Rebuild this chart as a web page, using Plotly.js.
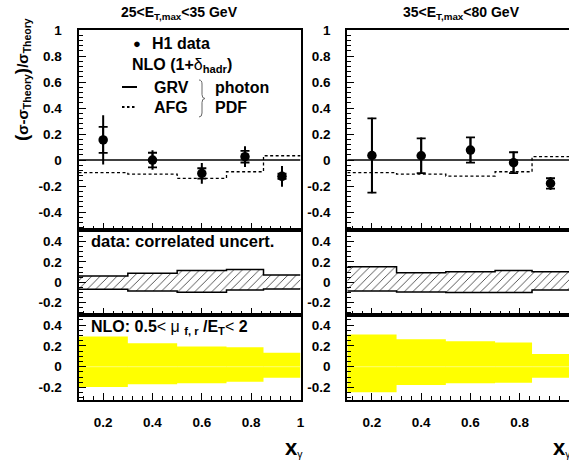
<!DOCTYPE html>
<html>
<head>
<meta charset="utf-8">
<script src="https://cdn.plot.ly/plotly-3.0.1.min.js"></script>
<style>html,body{margin:0;padding:0;background:#fff;}#plot{width:569px;height:465px;}</style>
</head>
<body>
<div id="plot"></div>
<script>
// ---------- data ----------
const binEdges = [0.1, 0.3, 0.5, 0.7, 0.85, 1.0];
const xPoints  = [0.2, 0.4, 0.6, 0.775, 0.925];

// 25 < E_T,max < 35 GeV
const h1Left       = [0.155, 0.0, -0.103, 0.026, -0.125];
const statLeft     = [0.10, 0.056, 0.04, 0.045, 0.02];
const totLeft      = [0.19, 0.075, 0.08, 0.08, 0.08];
const grvLeft      = [0, 0, 0, 0, 0];
const afgLeft      = [-0.097, -0.108, -0.141, -0.09, 0.033];
const corrUpLeft   = [0.062, 0.089, 0.115, 0.125, 0.072];
const corrLoLeft   = [-0.069, -0.085, -0.098, -0.075, -0.066];
const scaleUpLeft  = [0.29, 0.226, 0.194, 0.187, 0.135];
const scaleLoLeft  = [-0.194, -0.168, -0.16, -0.145, -0.106];

// 35 < E_T,max < 80 GeV
const h1Right      = [0.035, 0.033, 0.077, -0.02, -0.18];
const statRight    = [0.285, 0.134, 0.097, 0.08, 0.04];
const totRight     = [0.29, 0.14, 0.10, 0.085, 0.05];
const grvRight     = [0, 0, 0, 0, 0];
const afgRight     = [-0.097, -0.108, -0.123, -0.09, 0.026];
const corrUpRight  = [0.154, 0.095, 0.105, 0.115, 0.105];
const corrLoRight  = [-0.085, -0.095, -0.10, -0.10, -0.075];
const scaleUpRight = [0.31, 0.265, 0.245, 0.232, 0.123];
const scaleLoRight = [-0.245, -0.177, -0.16, -0.155, -0.106];

const xTickVals = [0.2, 0.4, 0.6, 0.8, 1.0];
const xTickText = ['0.2', '0.4', '0.6', '0.8', '1'];
const yTopVals  = [-0.4, -0.2, 0, 0.2, 0.4, 0.6, 0.8, 1];
const yTopText  = ['-0.4', '-0.2', '0', '0.2', '0.4', '0.6', '0.8', '1'];
const ySubVals  = [-0.2, 0, 0.2, 0.4];
const ySubText  = ['-0.2', '0', '0.2', '0.4'];

const titleLeft  = '<b>25&lt;E<sub>T,max</sub>&lt;35 GeV</b>';
const titleRight = '<b>35&lt;E<sub>T,max</sub>&lt;80 GeV</b>';

// ---------- helpers ----------
const W = 569, H = 465;
const px = x => x / W;
const py = y => 1 - y / H;
const stepY = v => v.concat([v[v.length - 1]]);

function panelTraces(h1, stat, tot, grv, afg, cUp, cLo, sUp, sLo, xa) {
  const ax = n => ({xaxis: 'x' + n, yaxis: 'y' + n});
  const [a1, a2, a3] = xa;
  return [
    Object.assign({x: binEdges, y: stepY(afg), mode: 'lines', line: {shape: 'hv', color: '#000', width: 1.3, dash: '3px,2.5px'}, hoverinfo: 'skip'}, ax(a1)),
    Object.assign({x: binEdges, y: stepY(grv), mode: 'lines', line: {shape: 'hv', color: '#000', width: 1.5}, hoverinfo: 'skip'}, ax(a1)),
    Object.assign({x: xPoints, y: h1, mode: 'markers', marker: {size: 0.1, color: '#000'},
      error_y: {type: 'data', array: tot, visible: true, width: 0, thickness: 2, color: '#000'}}, ax(a1)),
    Object.assign({x: xPoints, y: h1, mode: 'markers', marker: {size: 9.5, color: '#000'},
      error_y: {type: 'data', array: stat, visible: true, width: 4.5, thickness: 1.8, color: '#000'}}, ax(a1)),
    Object.assign({x: binEdges, y: stepY(cLo), mode: 'lines', line: {shape: 'hv', color: '#000', width: 1.5}}, ax(a2)),
    Object.assign({x: binEdges, y: stepY(cUp), mode: 'lines', line: {shape: 'hv', color: '#000', width: 1.5},
      fill: 'tonexty', fillcolor: 'rgba(0,0,0,0)',
      fillpattern: {shape: '/', size: 6, solidity: 0.15, fgcolor: '#444', bgcolor: '#fff'}}, ax(a2)),
    Object.assign({x: binEdges, y: stepY(sLo), mode: 'lines', line: {shape: 'hv', color: '#ffff00', width: 0}}, ax(a3)),
    Object.assign({x: binEdges, y: stepY(sUp), mode: 'lines', line: {shape: 'hv', color: '#ffff00', width: 0},
      fill: 'tonexty', fillcolor: '#ffff00'}, ax(a3)),
    Object.assign({x: binEdges, y: stepY(grv), mode: 'lines', line: {shape: 'hv', color: '#ffff70', width: 1}}, ax(a3))
  ];
}

const traces = []
  .concat(panelTraces(h1Left, statLeft, totLeft, grvLeft, afgLeft, corrUpLeft, corrLoLeft, scaleUpLeft, scaleLoLeft, ['', '2', '3']))
  .concat(panelTraces(h1Right, statRight, totRight, grvRight, afgRight, corrUpRight, corrLoRight, scaleUpRight, scaleLoRight, ['4', '5', '6']));

const tickFont = {family: 'Liberation Sans, Arial, sans-serif', size: 13.5, color: '#000', weight: 'bold'};
const colL = [px(78.5), px(300.5)];
const colR = [px(347.3), 1.0];
const rowT = [py(230), py(30)];
const rowM = [py(315), py(230)];
const rowB = [py(400), py(315)];

function xAxis(domain, anchor, labels) {
  return {
    domain: domain, anchor: anchor, range: [0.1, 1.0], showgrid: false, zeroline: false,
    showline: true, linewidth: 2, linecolor: '#000', mirror: true,
    ticks: 'inside', ticklen: 7, tickwidth: 1, tickcolor: '#000',
    tickmode: 'array', tickvals: xTickVals, ticktext: xTickText,
    minor: {tickmode: 'linear', tick0: 0, dtick: 0.04, ticks: 'inside', ticklen: 4, tickwidth: 1, tickcolor: '#000'},
    showticklabels: labels, tickfont: tickFont, ticklabelstandoff: 9, fixedrange: true
  };
}
function yAxis(domain, anchor, range, vals, text, mdt, mir) {
  return {
    domain: domain, anchor: anchor, range: range, showgrid: false, zeroline: false,
    showline: true, linewidth: 2, linecolor: '#000', mirror: mir,
    ticks: 'inside', ticklen: 7, tickwidth: 1, tickcolor: '#000',
    tickmode: 'array', tickvals: vals, ticktext: text,
    minor: {tickmode: 'linear', tick0: 0, dtick: mdt, ticks: 'inside', ticklen: 4, tickwidth: 1, tickcolor: '#000'},
    showticklabels: true, tickfont: tickFont, ticklabelstandoff: 12, fixedrange: true
  };
}

const rT = [-0.538, 1.0], rM = [-0.322, 0.515], rB = [-0.32, 0.497];

const txt = (x, y, text, size, anchor, extra) => Object.assign({
  xref: 'paper', yref: 'paper', x: px(x), y: py(y), text: text, showarrow: false,
  xanchor: anchor || 'left', yanchor: 'middle', borderpad: 0,
  font: {family: 'Liberation Sans, Arial, sans-serif', size: size, color: '#000'}
}, extra || {});

// brace "}" drawn as a thin path (pixel points -> paper coords)
function bracePath(xt, xs, xp, yt, yb) {
  const ym = (yt + yb) / 2, r = 4;
  const P = (x, y) => px(x).toFixed(5) + ',' + py(y).toFixed(5);
  return 'M' + P(xt, yt) + ' Q' + P(xs, yt) + ' ' + P(xs, yt + r) +
         ' L' + P(xs, ym - r) + ' Q' + P(xs, ym) + ' ' + P(xp, ym) +
         ' Q' + P(xs, ym) + ' ' + P(xs, ym + r) +
         ' L' + P(xs, yb - r) + ' Q' + P(xs, yb) + ' ' + P(xt, yb);
}

const layout = {
  width: W, height: H, margin: {l: 0, r: 0, t: 0, b: 0},
  paper_bgcolor: '#fff', plot_bgcolor: '#fff', showlegend: false,
  xaxis: xAxis(colL, 'y', false), yaxis: yAxis(rowT, 'x', rT, yTopVals, yTopText, 0.04, true),
  xaxis2: xAxis(colL, 'y2', false), yaxis2: yAxis(rowM, 'x2', rM, ySubVals, ySubText, 0.05, true),
  xaxis3: xAxis(colL, 'y3', true), yaxis3: yAxis(rowB, 'x3', rB, ySubVals, ySubText, 0.05, true),
  xaxis4: xAxis(colR, 'y4', false), yaxis4: yAxis(rowT, 'x4', rT, yTopVals, yTopText, 0.04, false),
  xaxis5: xAxis(colR, 'y5', false), yaxis5: yAxis(rowM, 'x5', rM, ySubVals, ySubText, 0.05, false),
  xaxis6: xAxis(colR, 'y6', true), yaxis6: yAxis(rowB, 'x6', rB, ySubVals, ySubText, 0.05, false),
  annotations: [
    txt(179, 13, titleLeft, 14, 'center'),
    txt(461.7, 13, titleRight, 14, 'center'),
    txt(22, 80, '<b><span style="font-size:19px">(</span>σ-σ<sub>Theory</sub><span style="font-size:19px">)</span>/σ<sub>Theory</sub></b>', 15, 'center', {textangle: -90}),
    txt(136.5, 43, '●', 13, 'center'),
    txt(151, 43, '<b>H1 data</b>', 16),
    txt(131, 65, '<b>NLO (1+</b>δ<sub><b>hadr</b></sub><b>)</b>', 16),
    txt(153, 87, '<b>GRV</b>', 16),
    txt(153, 107, '<b>AFG</b>', 16),
    txt(214, 87, '<b>photon</b>', 16),
    txt(214, 107, '<b>PDF</b>', 16),
    txt(90, 241, '<b>data: correlated uncert.</b>', 16.5),
    txt(90, 327, '<b>NLO: 0.5</b>&lt; μ <sub><b>f, r</b></sub><b> /E<sub>T</sub></b>&lt;<b> 2</b>', 16),
    txt(304, 447, '<b><span style="font-size:22px">x</span></b><sub>γ</sub>', 15, 'right'),
    txt(552, 447, '<b><span style="font-size:22px">x</span></b><sub>γ</sub>', 15, 'left')
  ],
  shapes: [
    {type: 'line', xref: 'paper', yref: 'paper', x0: px(122), x1: px(137), y0: py(87), y1: py(87), line: {color: '#000', width: 2}},
    {type: 'line', xref: 'paper', yref: 'paper', x0: px(122), x1: px(136), y0: py(107), y1: py(107), line: {color: '#000', width: 2, dash: '2.5px,2.5px'}},
    {type: 'path', xref: 'paper', yref: 'paper', path: bracePath(199, 202, 205, 80, 117), line: {color: '#666', width: 1}}
  ]
};

Plotly.newPlot('plot', traces, layout, {staticPlot: true, displayModeBar: false});
</script>
</body>
</html>
